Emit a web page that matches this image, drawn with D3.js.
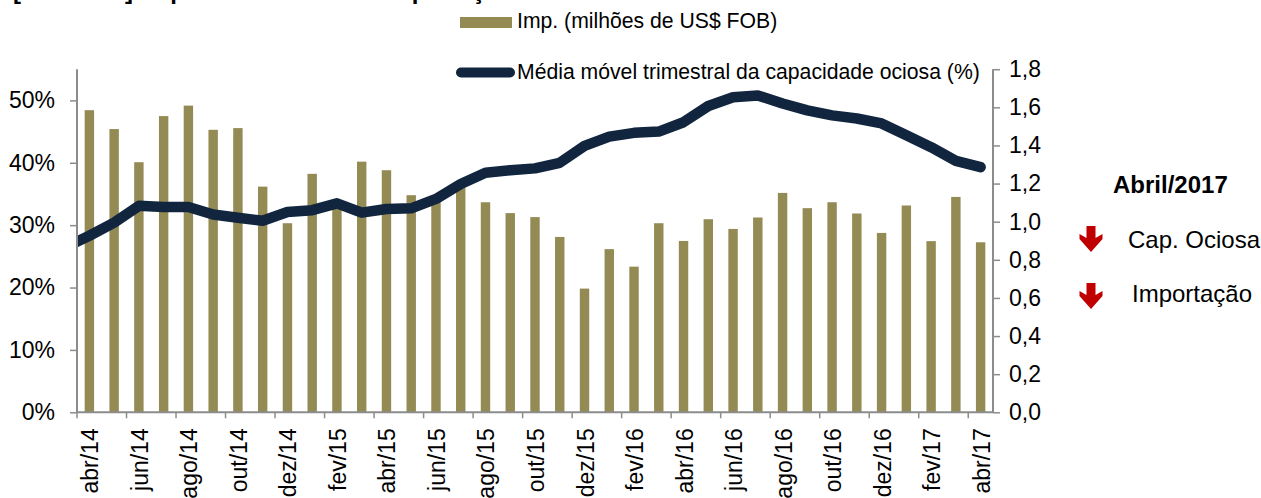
<!DOCTYPE html>
<html>
<head>
<meta charset="utf-8">
<script src="https://cdn.jsdelivr.net/npm/d3@7"></script>
<style>
  html, body { margin: 0; padding: 0; background: #ffffff; }
  svg { display: block; font-family: Arial, "Liberation Sans", sans-serif; }
</style>
</head>
<body>
<svg id="chart" width="1261" height="498"></svg>
<script>
// ---- DATA ----
const categories = ["abr/14","mai/14","jun/14","jul/14","ago/14","set/14","out/14","nov/14","dez/14",
  "jan/15","fev/15","mar/15","abr/15","mai/15","jun/15","jul/15","ago/15","set/15","out/15","nov/15","dez/15",
  "jan/16","fev/16","mar/16","abr/16","mai/16","jun/16","jul/16","ago/16","set/16","out/16","nov/16","dez/16",
  "jan/17","fev/17","mar/17","abr/17"];
const importacao = [1.585,1.486,1.312,1.554,1.609,1.482,1.491,1.184,0.992,
  1.251,1.078,1.315,1.270,1.139,1.110,1.180,1.102,1.045,1.024,0.920,0.649,
  0.856,0.764,0.992,0.899,1.013,0.962,1.022,1.151,1.071,1.102,1.043,0.941,
  1.085,0.898,1.130,0.892];
const capOciosa = [0.283,0.304,0.331,0.329,0.329,0.317,0.312,0.307,0.321,
  0.324,0.335,0.320,0.326,0.327,0.342,0.366,0.384,0.388,0.391,0.400,0.427,
  0.442,0.448,0.450,0.465,0.491,0.505,0.508,0.495,0.484,0.476,0.471,0.463,
  0.444,0.425,0.403,0.393];
const capOciosaMesAnterior = 0.264; // mar/14, clipped at the plot edge
const leftTicks = [0,0.1,0.2,0.3,0.4,0.5];
const rightTicks = [0,0.2,0.4,0.6,0.8,1.0,1.2,1.4,1.6,1.8];
const legendLabels = ["Imp. (milhões de US$ FOB)", "Média móvel trimestral da capacidade ociosa (%)"];
const titleText = "[Gráfico 1] Capacidade ociosa e importação";
const noteTitle = "Abril/2017";
const noteItems = ["Cap. Ociosa", "Importação"];

// ---- LAYOUT ----
const svg = d3.select("#chart");
const X0 = 77, X1 = 993, Y0 = 412.3, YT = 69.2;
const barColor = "#948A54", lineColor = "#11253F", axisColor = "#8C8C8C";

const x = d3.scaleBand().domain(categories).range([X0, X1]).paddingInner(0).paddingOuter(0);
const bw = x.bandwidth();
const yL = d3.scaleLinear().domain([0, 0.55]).range([Y0, YT]);
const yR = d3.scaleLinear().domain([0, 1.8]).range([Y0, YT]);

// title (cut off at top, as in the reference)
svg.append("text").attr("x", 13).attr("y", -1.5)
  .attr("font-size", 24).attr("font-weight", "bold").attr("fill", "#000")
  .text(titleText);

// clip
svg.append("defs").append("clipPath").attr("id", "plot")
  .append("rect").attr("x", X0).attr("y", 0).attr("width", X1 - X0).attr("height", Y0);

// bars
const barW = bw * 0.38;
svg.append("g").selectAll("rect").data(importacao).join("rect")
  .attr("x", (d, i) => x(categories[i]) + bw / 2 - barW / 2)
  .attr("width", barW)
  .attr("y", d => yR(d))
  .attr("height", d => Y0 - yR(d))
  .attr("fill", barColor);

// line
const pts = capOciosa.map((v, i) => [x(categories[i]) + bw / 2, yL(v)]);
pts.unshift([x(categories[0]) + bw / 2 - bw, yL(capOciosaMesAnterior)]);
svg.append("path")
  .attr("clip-path", "url(#plot)")
  .attr("d", d3.line()(pts))
  .attr("fill", "none").attr("stroke", lineColor).attr("stroke-width", 10.5)
  .attr("stroke-linejoin", "round").attr("stroke-linecap", "round");

// axes
const gL = svg.append("g").attr("transform", `translate(${X0},0)`)
  .call(d3.axisLeft(yL).tickValues(leftTicks).tickSize(7).tickPadding(15)
    .tickFormat(d3.format(".0%")));
const gR = svg.append("g").attr("transform", `translate(${X1},0)`)
  .call(d3.axisRight(yR).tickValues(rightTicks).tickSize(7).tickPadding(9)
    .tickFormat(d => d3.format(".1f")(d).replace(".", ",")));
[gL, gR].forEach(g => {
  g.select(".domain").attr("stroke", axisColor).attr("stroke-width", 2).attr("d", `M0,${YT}V${Y0}`);
  g.selectAll(".tick line").attr("stroke", axisColor).attr("stroke-width", 1.5);
  g.selectAll(".tick text").attr("font-size", 23).attr("fill", "#000")
    .attr("font-family", "Arial, 'Liberation Sans', sans-serif");
});

// x axis
svg.append("line").attr("x1", X0).attr("x2", X1).attr("y1", Y0).attr("y2", Y0)
  .attr("stroke", axisColor).attr("stroke-width", 2);
const xg = svg.append("g");
categories.forEach((c, i) => {
  if (i % 2 !== 0) return;
  const xb = x(c);
  xg.append("line").attr("x1", xb).attr("x2", xb).attr("y1", Y0).attr("y2", Y0 + 6)
    .attr("stroke", axisColor).attr("stroke-width", 1.5);
  const cx = xb + bw / 2 + 9;
  xg.append("text").attr("transform", `translate(${cx},${Y0 + 16}) rotate(-90)`)
    .attr("text-anchor", "end").attr("font-size", 23).attr("fill", "#000").text(c);
});

// legend
svg.append("rect").attr("x", 460).attr("y", 17).attr("width", 52).attr("height", 11).attr("fill", barColor);
svg.append("text").attr("x", 517).attr("y", 28).attr("font-size", 21.2).attr("fill", "#000").text(legendLabels[0]);
svg.append("line").attr("x1", 461).attr("x2", 510).attr("y1", 72.5).attr("y2", 72.5)
  .attr("stroke", lineColor).attr("stroke-width", 10).attr("stroke-linecap", "round");
svg.append("text").attr("x", 517).attr("y", 79).attr("font-size", 21.2).attr("fill", "#000").text(legendLabels[1]);

// note
svg.append("text").attr("x", 1113).attr("y", 193).attr("font-size", 24).attr("font-weight", "bold")
  .attr("fill", "#000").text(noteTitle);
const noteY = [248, 302], noteX = [1128, 1132], arrowTop = [226, 283];
noteItems.forEach((t, i) => {
  svg.append("text").attr("x", noteX[i]).attr("y", noteY[i]).attr("font-size", 24)
    .attr("fill", "#000").text(t);
  const cx = 1091, t0 = arrowTop[i];
  const p = d3.path();
  p.moveTo(cx - 4.5, t0); p.lineTo(cx + 4.5, t0); p.lineTo(cx + 4.5, t0 + 12);
  p.lineTo(cx + 11.5, t0 + 8); p.lineTo(cx + 11.5, t0 + 13); p.lineTo(cx, t0 + 26);
  p.lineTo(cx - 11.5, t0 + 13); p.lineTo(cx - 11.5, t0 + 8);
  p.lineTo(cx - 4.5, t0 + 12); p.closePath();
  svg.append("path").attr("d", p.toString()).attr("fill", "#C00000");
});
</script>
</body>
</html>
